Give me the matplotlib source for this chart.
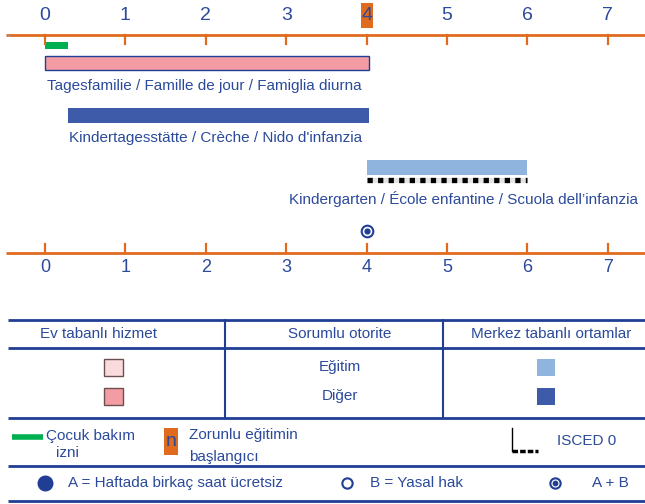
import matplotlib
matplotlib.use("Agg")
import matplotlib.pyplot as plt
from matplotlib.patches import Rectangle
from matplotlib import font_manager

names = {f.name for f in font_manager.fontManager.ttflist}
FAM = ['Liberation Sans Narrow', 'Liberation Sans', 'DejaVu Sans'] if 'Liberation Sans Narrow' in names else ['Liberation Sans', 'DejaVu Sans']
plt.rcParams['font.family'] = FAM

# ---- data ----
ages = [0, 1, 2, 3, 4, 5, 6, 7]
compulsory_start = 4
leave = (0.0, 0.28)                # Çocuk bakım izni
tagesfamilie = (0.0, 4.03)
kita = (0.28, 4.03)
kindergarten = (4.0, 6.0)
isced0 = (4.0, 6.0)
entitlement_age = 4.0
label_tf = "Tagesfamilie / Famille de jour / Famiglia diurna"
label_kita = "Kindertagesstätte / Crèche / Nido d'infanzia"
label_kg = "Kindergarten / École enfantine / Scuola dell’infanzia"

ORANGE = '#E06A1E'
TXT = '#2B4A9B'
PINK = '#F49CA3'
LPINK = '#FADBDD'
DBLUE = '#3E5BA9'
LBLUE = '#8FB4DE'
GREEN = '#00B050'
LINE = '#1F3E94'
FS = 11

W, H = 645, 504
fig = plt.figure(figsize=(W/100, H/100), dpi=100)
px0, upx = 45.0, 80.4
ax = fig.add_axes([0, 0, 1, 1])
ax.set_xlim(-px0/upx, (W-px0)/upx)
ax.set_ylim(H, 0)
ax.axis('off')

# pixel axes for table
tx = fig.add_axes([0, 0, 1, 1])
tx.set_xlim(0, W); tx.set_ylim(H, 0); tx.axis('off')
tx.patch.set_alpha(0)

# axes lines
xl = (6 - px0) / upx
for y, lab_y, tick_dir in [(35, 15, 1), (253, 268, -1)]:
    ax.plot([xl, 8], [y, y], color=ORANGE, lw=2, solid_capstyle='butt')
    for a in ages:
        ax.plot([a, a], [y, y + tick_dir*9], color=ORANGE, lw=1.6)
    fs = 14 if y == 35 else 13
    for a in ages:
        if y == 35 and a == compulsory_start:
            ax.add_patch(Rectangle((a - 6/upx, 3), 12.5/upx, 25, color=ORANGE, lw=0, zorder=1))
        ax.text(a, lab_y, str(a), ha='center', va='center', fontsize=fs, color=TXT, zorder=3)

tx.text(9, 38, '"', fontsize=6, color='#9aa6c8', ha='center', va='center')

# bars
ax.barh(45, leave[1]-leave[0], left=leave[0], height=7, color=GREEN, lw=0)
ax.barh(63, tagesfamilie[1]-tagesfamilie[0], left=tagesfamilie[0], height=14, color=PINK, edgecolor=LINE, lw=1)
ax.text(tagesfamilie[0]+2/upx, 86, label_tf, fontsize=FS, color=TXT, va='center', ha='left')
ax.barh(115, kita[1]-kita[0], left=kita[0], height=15, color=DBLUE, lw=0)
ax.text(kita[0]+1/upx, 138, label_kita, fontsize=FS, color=TXT, va='center', ha='left')
ax.barh(167, kindergarten[1]-kindergarten[0], left=kindergarten[0], height=15, color=LBLUE, lw=0)
# ISCED dashed line
ax.plot([isced0[0], isced0[1]], [180, 180], color='#e4e4e4', lw=3.8, solid_capstyle='butt')
ax.plot([isced0[0], isced0[1]], [180, 180], color='black', lw=3.8, dashes=(1.0, 1.0))
ax.text(kindergarten[1]+1.38, 199, label_kg, fontsize=FS, color=TXT, va='center', ha='right')
ax.scatter([entitlement_age], [231], s=70, facecolor='white', edgecolor=LINE, lw=1.5, zorder=3)
ax.scatter([entitlement_age], [231], s=12, color=LINE, zorder=4)

# table
def hline(y, lw=2):
    tx.plot([8, 645], [y, y], color=LINE, lw=lw, solid_capstyle='butt')
for y in [320, 348, 418, 466, 501]:
    hline(y)
for x in [225, 443]:
    tx.plot([x, x], [320, 418], color=LINE, lw=1.5)

headers = ["Ev tabanlı hizmet", "Sorumlu otorite", "Merkez tabanlı ortamlar"]
hx = [98, 340, 551]
for h, x in zip(headers, hx):
    tx.text(x, 334, h, ha='center', va='center', fontsize=FS, color=TXT)
rows = ["Eğitim", "Diğer"]
ry = [367, 396]
home_cols = [LPINK, PINK]
centre_cols = [LBLUE, DBLUE]
for r, y, hc, cc in zip(rows, ry, home_cols, centre_cols):
    tx.text(340, y, r, ha='center', va='center', fontsize=FS, color=TXT)
    tx.add_patch(Rectangle((104, y-8.5), 19, 17, facecolor=hc, edgecolor='#6b5050', lw=1))
    tx.add_patch(Rectangle((537, y-8.5), 18, 17, facecolor=cc, lw=0))

# legend row 1
tx.plot([12, 43], [437, 437], color=GREEN, lw=4, solid_capstyle='butt')
tx.text(46, 436, "Çocuk bakım", fontsize=FS, color=TXT, va='center')
tx.text(56, 453, "izni", fontsize=FS, color=TXT, va='center')
tx.add_patch(Rectangle((164, 428), 14, 27, color=ORANGE, lw=0))
tx.text(171, 442, "n", fontsize=14, color=TXT, ha='center', va='center')
tx.text(189, 435, "Zorunlu eğitimin", fontsize=FS, color=TXT, va='center')
tx.text(189, 457, "başlangıcı", fontsize=FS, color=TXT, va='center')
tx.plot([512, 512], [428, 451], color='black', lw=1)
tx.plot([512, 538], [451, 451], color='black', lw=2.5, dashes=(1.6, 0.6))
tx.text(557, 441, "ISCED 0", fontsize=FS, color=TXT, va='center')

# legend row 2
tx.scatter([45], [483], s=110, color=LINE)
tx.text(68, 483, "A = Haftada birkaç saat ücretsiz", fontsize=FS, color=TXT, va='center')
tx.scatter([347], [483], s=55, facecolor='white', edgecolor=LINE, lw=1.5)
tx.text(370, 483, "B = Yasal hak", fontsize=FS, color=TXT, va='center')
tx.scatter([555], [483], s=55, facecolor='white', edgecolor=LINE, lw=1.5)
tx.scatter([555], [483], s=10, color=LINE)
tx.text(592, 483, "A + B", fontsize=FS, color=TXT, va='center')

fig.savefig('out.png', dpi=100)
